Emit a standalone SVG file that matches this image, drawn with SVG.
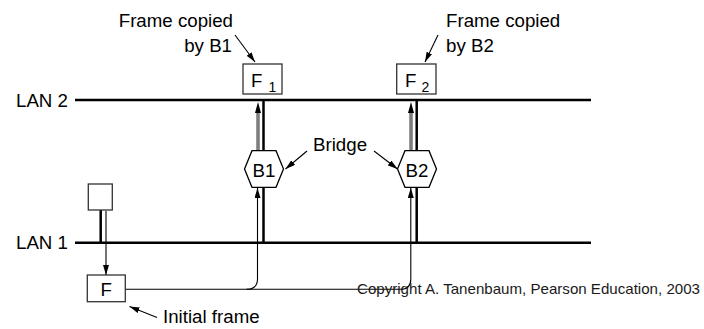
<svg xmlns="http://www.w3.org/2000/svg" width="704" height="329" viewBox="0 0 704 329">
<style>
text{font-family:"Liberation Sans",Arial,Helvetica,sans-serif;fill:#000}
.lbl{font-size:18.7px}
.sub{font-size:14px}
.cr{font-size:15px;fill:#1a1a1a}
.lan{stroke:#000;stroke-width:2.5;fill:none}
.thick{stroke:#000;stroke-width:2.5;fill:none}
.box{fill:#fff;stroke:#333;stroke-width:1.3}
.hex{fill:#fff;stroke:#000;stroke-width:1.3}
.thin{stroke:#000;stroke-width:1.1;fill:none}
.dbl-o{stroke:#333;stroke-width:3;fill:none}
.dbl-i{stroke:#c8c8c8;stroke-width:1;fill:none}
</style>
<defs>
<marker id="ah" viewBox="0 0 10 6" refX="10" refY="3" markerWidth="10" markerHeight="6" markerUnits="userSpaceOnUse" orient="auto">
<path d="M0,0 L10,3 L0,6 z" fill="#000"/>
</marker>
</defs>
<rect width="704" height="329" fill="#fff"/>

<g id="lan2">
<line class="lan" x1="75" y1="100" x2="591" y2="100"/>
<text class="lbl" x="16" y="106.5">LAN 2</text>
</g>
<g id="lan1">
<line class="lan" x1="75" y1="242.7" x2="591" y2="242.7"/>
<text class="lbl" x="16" y="249">LAN 1</text>
</g>

<g id="connectors">
<line class="thick" x1="263.5" y1="100" x2="263.5" y2="151"/>
<line class="thick" x1="263.5" y1="187" x2="263.5" y2="242.7"/>
<line class="thick" x1="416.7" y1="100" x2="416.7" y2="151"/>
<line class="thick" x1="416.7" y1="187" x2="416.7" y2="242.7"/>
<line class="thick" x1="100.7" y1="210" x2="100.7" y2="242.7"/>
<line class="thin" x1="106" y1="211" x2="106" y2="275" marker-end="url(#ah)"/>
<path class="thin" d="M125.3,289.3 H400.5 Q410.8,289.3 410.8,279 V188" marker-end="url(#ah)"/>
<path class="thin" d="M246.5,289.3 Q257.5,289.3 257.5,279 V188" marker-end="url(#ah)"/>
<line class="dbl-o" x1="258" y1="151" x2="258" y2="111"/>
<line class="dbl-i" x1="258" y1="150" x2="258" y2="112"/>
<path d="M255,113 L258,102 L261,113 z" fill="#000"/>
<line class="dbl-o" x1="411" y1="151" x2="411" y2="111"/>
<line class="dbl-i" x1="411" y1="150" x2="411" y2="112"/>
<path d="M408,113 L411,102 L414,113 z" fill="#000"/>
<line class="thin" x1="235" y1="35" x2="255" y2="62" marker-end="url(#ah)"/>
<line class="thin" x1="438" y1="35" x2="425" y2="62" marker-end="url(#ah)"/>
<line class="thin" x1="307" y1="151" x2="285.5" y2="169" marker-end="url(#ah)"/>
<line class="thin" x1="374" y1="151" x2="397.5" y2="169" marker-end="url(#ah)"/>
<line class="thin" x1="157" y1="317.5" x2="129.5" y2="306.5" marker-end="url(#ah)"/>
</g>

<g id="station">
<rect class="box" x="88.3" y="184" width="24" height="26"/>
</g>

<g id="frameF">
<rect class="box" x="87.3" y="275" width="38" height="26.7"/>
<text class="lbl" x="106.3" y="295.7" text-anchor="middle">F</text>
</g>

<g id="frameF1">
<rect class="box" x="243" y="64" width="39" height="30"/>
<text class="lbl" x="251" y="87">F</text>
<text class="sub" x="268.5" y="91.5">1</text>
</g>

<g id="frameF2">
<rect class="box" x="396.7" y="64" width="39.3" height="30"/>
<text class="lbl" x="405" y="87">F</text>
<text class="sub" x="421.5" y="91.5">2</text>
</g>

<g id="bridgeB1">
<polygon class="hex" points="244.5,169 252,150.7 276,150.7 283.5,169 276,187.3 252,187.3"/>
<text class="lbl" x="264" y="176.5" text-anchor="middle">B1</text>
</g>

<g id="bridgeB2">
<polygon class="hex" points="397.5,169 405,150.7 429,150.7 436.5,169 429,187.3 405,187.3"/>
<text class="lbl" x="417" y="176.5" text-anchor="middle">B2</text>
</g>

<g id="labels">
<text class="lbl" x="233" y="26.5" text-anchor="end">Frame copied</text>
<text class="lbl" x="232" y="51.5" text-anchor="end">by B1</text>
<text class="lbl" x="446" y="26.5">Frame copied</text>
<text class="lbl" x="446" y="51.5">by B2</text>
<text class="lbl" x="313" y="151">Bridge</text>
<text class="lbl" x="163" y="323.3">Initial frame</text>
<text class="cr" x="357" y="294.3" textLength="343" lengthAdjust="spacingAndGlyphs">Copyright A. Tanenbaum, Pearson Education, 2003</text>
</g>
</svg>
